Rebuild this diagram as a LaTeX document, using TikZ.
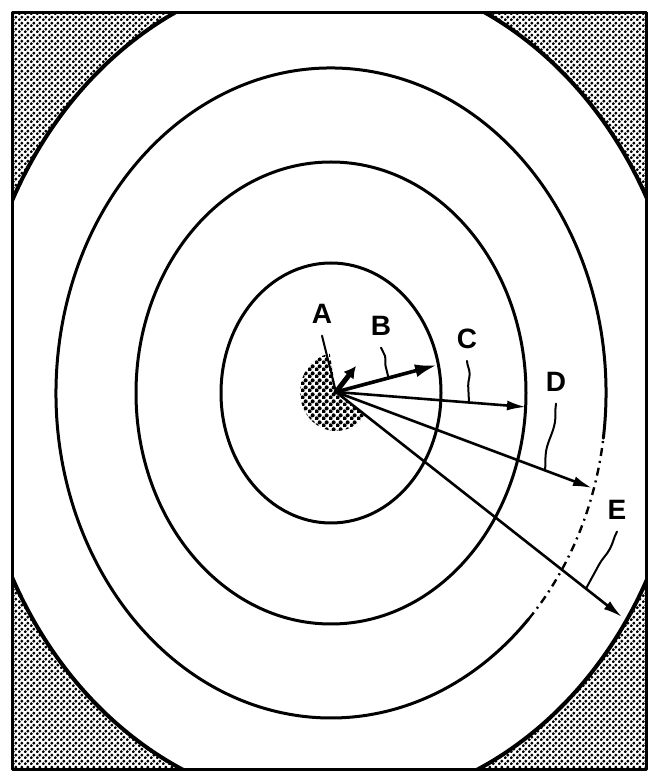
\documentclass[tikz,border=0pt]{standalone}
\usepackage{fontspec}
\setsansfont{Liberation Sans}
\usetikzlibrary{arrows.meta,patterns,calc,decorations.pathmorphing}

\pgfdeclarepatternformonly{halftone}{\pgfqpoint{0pt}{0pt}}{\pgfqpoint{6pt}{6pt}}{\pgfqpoint{6pt}{6pt}}{%
  \pgfpathcircle{\pgfqpoint{1.5pt}{1.5pt}}{1.9pt}%
  \pgfpathcircle{\pgfqpoint{4.5pt}{4.5pt}}{1.9pt}%
  \pgfusepath{fill}}
\pgfdeclarepatternformonly{halftonecore}{\pgfqpoint{0pt}{0pt}}{\pgfqpoint{7pt}{7pt}}{\pgfqpoint{7pt}{7pt}}{%
  \pgfpathcircle{\pgfqpoint{1.75pt}{1.75pt}}{2.3pt}%
  \pgfpathcircle{\pgfqpoint{5.25pt}{5.25pt}}{2.3pt}%
  \pgfusepath{fill}}

\begin{document}
\begin{tikzpicture}[x=1pt,y=1pt,line cap=round,line join=round,
  every node/.style={inner sep=1pt,outer sep=11pt,font=\fontsize{28}{28}\selectfont\sffamily\bfseries},
  ring/.style={line width=3pt},
  arr/.style={line width=2.6pt,-{Latex[length=19pt,width=10pt]}},
  leader/.style={line width=2pt,decorate,decoration={snake,amplitude=2pt,segment length=#1}},
  leader/.default=40pt]
  \useasboundingbox (0,0) rectangle (648,777);
  \coordinate (cen) at (331,384);
  \coordinate (O) at (336,385);
  % 四角网点与外框
  \begin{scope}
    \clip (12,7) rectangle (646,764);
    \fill[pattern=halftone,even odd rule] (12,7) rectangle (646,764) (330,388) ellipse[x radius=356,y radius=418];
    \draw[line width=4pt] (330,388) ellipse[x radius=356,y radius=418];
  \end{scope}
  \draw[line width=3pt] (12,7) rectangle (646,764);
  % 同心椭圆 B、C、D（D 右下段为虚线）
  \draw[ring] (cen) ellipse[x radius=110,y radius=130];
  \draw[ring] (cen) ellipse[x radius=195,y radius=231];
  \draw[ring] ([shift={(-8:275 and 325)}]cen) arc[start angle=-8,end angle=316,x radius=275,y radius=325];
  \draw[line width=2.4pt,line cap=butt,dash pattern=on 8pt off 5pt on 2pt off 5pt] ([shift={(-44:275 and 325)}]cen) arc[start angle=-44,end angle=-8,x radius=275,y radius=325];
  % 中心网点扇形
  \fill[pattern=halftonecore] (O) -- ([shift={(100:36 and 39)}]O) arc[start angle=100,end angle=322,x radius=36,y radius=39] -- cycle;
  % 箭头终点
  \coordinate (tipA) at (356,411);
  \coordinate (tipB) at (437,412);
  \coordinate (tipC) at (526,370);
  \coordinate (tipD) at (592,289);
  \coordinate (tipE) at (622,160);
  % 箭头
  \draw[line width=5pt,-{Latex[length=12pt,width=13pt]}] (O) -- (tipA);
  \draw[arr,line width=3.6pt,-{Latex[length=22pt,width=13pt]}] (O) -- (tipB);
  \draw[arr] (O) -- (tipC);
  \draw[arr] (O) -- (tipD);
  \draw[arr] (O) -- (tipE);
  % 字母
  \node (labA) at (322,463) {A};
  \node (labB) at (381,451) {B};
  \node (labC) at (467,438) {C};
  \node (labD) at (556,395) {D};
  \node (labE) at (617,267) {E};
  % 引线
  \coordinate (legB) at ($(O)!0.52!(tipB)$);
  \coordinate (legC) at ($(O)!0.70!(tipC)$);
  \coordinate (legD) at ($(O)!0.816!(tipD)$);
  \coordinate (legE) at ($(O)!0.874!(tipE)$);
  \draw[line width=2pt] (labA.south) -- (O);
  \draw[leader=30pt] (labB.south) -- (legB);
  \draw[leader=40pt] (labC.south) -- (legC);
  \draw[leader=60pt] (labD.south) -- (legD);
  \draw[leader=60pt] (labE.south) -- (legE);
\end{tikzpicture}
\end{document}
